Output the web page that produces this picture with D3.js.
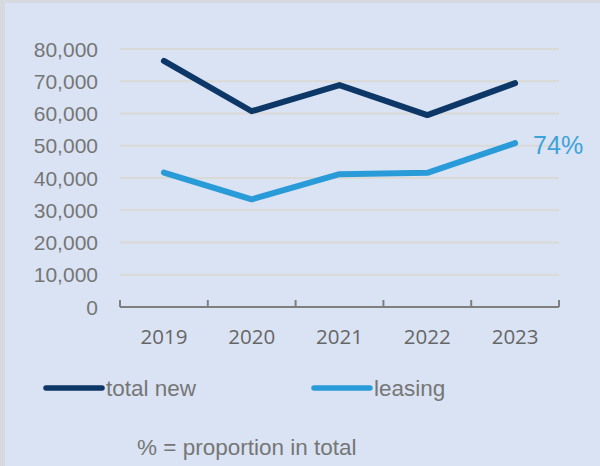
<!DOCTYPE html>
<html>
<head>
<meta charset="utf-8">
<script src="https://cdn.jsdelivr.net/npm/d3@7"></script>
<style>
  html, body { margin:0; padding:0; background:#fff; }
  svg { display:block; }
</style>
</head>
<body>
<div id="chart"></div>
<script>
const years = ['2019','2020','2021','2022','2023'];
const totalNew = [76300, 60700, 68800, 59500, 69400];
const leasing  = [41700, 33400, 41200, 41600, 50800];
const yTicks = [0,10000,20000,30000,40000,50000,60000,70000,80000];
const endLabel = '74%';

const W=600, H=466;
const svg = d3.select('#chart').append('svg').attr('width',W).attr('height',H);

// frame
svg.append('rect').attr('width',W).attr('height',H).attr('fill','#d6d9de');
svg.append('rect').attr('x',5).attr('y',3).attr('width',W-5).attr('height',H-3).attr('fill','#dae3f3');

const x = d3.scaleBand().domain(years).range([120,559]);
const y = d3.scaleLinear().domain([0,80000]).range([307,49]);

// gridlines
svg.append('g').selectAll('line').data(yTicks.filter(d=>d>0)).join('line')
  .attr('x1',120).attr('x2',559)
  .attr('y1',d=>y(d)).attr('y2',d=>y(d))
  .attr('stroke','#d9d9d6').attr('stroke-width',2);

// y labels
svg.append('g').selectAll('text').data(yTicks).join('text')
  .attr('x',98).attr('y',d=>y(d)+7.5)
  .attr('text-anchor','end')
  .attr('font-family','"Liberation Sans", Arial, sans-serif')
  .attr('font-size',21).attr('fill','#767676')
  .text(d=>d3.format(',')(d));

// x axis
const xAxis = d3.axisBottom(x).tickSize(0).tickSizeOuter(0);
const gx = svg.append('g').attr('transform',`translate(0,${y(0)})`).call(xAxis);
gx.select('.domain').remove();
gx.selectAll('text')
  .attr('dy',null).attr('y',37)
  .attr('font-family','"Open Sans", sans-serif')
  .attr('font-size',20.5).attr('fill','#666');
svg.append('line').attr('x1',120).attr('x2',559).attr('y1',y(0)).attr('y2',y(0))
  .attr('stroke','#7f7f7f').attr('stroke-width',2.2);
const bounds = years.map(d=>x(d)).concat([x.range()[1]]);
svg.append('g').selectAll('line').data(bounds).join('line')
  .attr('x1',d=>d).attr('x2',d=>d).attr('y1',y(0)).attr('y2',y(0)-7)
  .attr('stroke','#7f7f7f').attr('stroke-width',2);

// lines
const cx = d => x(d) + x.bandwidth()/2;
const line = d3.line().x((d,i)=>cx(years[i])).y(d=>y(d));
svg.append('path').datum(totalNew).attr('d',line)
  .attr('fill','none').attr('stroke','#0c3767').attr('stroke-width',6)
  .attr('stroke-linecap','round').attr('stroke-linejoin','round');
svg.append('path').datum(leasing).attr('d',line)
  .attr('fill','none').attr('stroke','#2a9bd9').attr('stroke-width',6)
  .attr('stroke-linecap','round').attr('stroke-linejoin','round');

svg.append('text')
  .attr('x',cx(years[4])+18).attr('y',y(leasing[4])+11)
  .attr('font-family','"Liberation Sans", Arial, sans-serif')
  .attr('font-size',25).attr('fill','#3ea2da')
  .text(endLabel);

// legend
const legend = [
  {name:'total new', color:'#0c3767', x0:46, x1:102},
  {name:'leasing', color:'#2a9bd9', x0:314, x1:370}
];
const lg = svg.append('g').selectAll('g').data(legend).join('g');
lg.append('line').attr('x1',d=>d.x0).attr('x2',d=>d.x1).attr('y1',388).attr('y2',388)
  .attr('stroke',d=>d.color).attr('stroke-width',5.5).attr('stroke-linecap','round');
lg.append('text').attr('x',d=>d.x1+4).attr('y',396)
  .attr('font-family','"Liberation Sans", Arial, sans-serif')
  .attr('font-size',22.5).attr('fill','#767676')
  .text(d=>d.name);

svg.append('text').attr('x',137).attr('y',455)
  .attr('font-family','"Liberation Sans", Arial, sans-serif')
  .attr('font-size',22.5).attr('fill','#767676')
  .text('% = proportion in total');
</script>
</body>
</html>
